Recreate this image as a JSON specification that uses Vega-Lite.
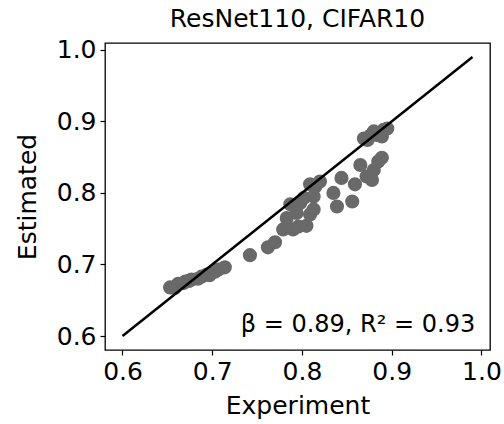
{
  "$schema": "https://vega.github.io/schema/vega-lite/v6.json",
  "autosize": {"type": "none"},
  "padding": {"left": 105, "top": 43, "right": 14, "bottom": 74},
  "width": 385,
  "height": 307,
  "background": "white",
  "title": {"text": "ResNet110, CIFAR10", "font": "DejaVu Sans", "fontSize": 25, "fontWeight": "normal", "color": "black", "offset": 6, "anchor": "middle"},
  "config": {
    "view": {"stroke": "black", "strokeWidth": 1.3},
    "axis": {"grid": false, "domain": false, "tickColor": "black", "tickSize": 5, "tickWidth": 1.2, "labelFont": "DejaVu Sans", "labelFontSize": 25, "labelColor": "black", "titleFont": "DejaVu Sans", "titleFontSize": 25, "titleFontWeight": "normal", "titleColor": "black", "labelPadding": 4}
  },
  "datasets": {
    "pts": [
      {"exp": 0.653, "est": 0.668}, {"exp": 0.658, "est": 0.667}, {"exp": 0.662, "est": 0.673}, {"exp": 0.668, "est": 0.674},
      {"exp": 0.670, "est": 0.676}, {"exp": 0.674, "est": 0.677}, {"exp": 0.677, "est": 0.679}, {"exp": 0.684, "est": 0.680},
      {"exp": 0.688, "est": 0.683}, {"exp": 0.694, "est": 0.686}, {"exp": 0.697, "est": 0.685}, {"exp": 0.703, "est": 0.690},
      {"exp": 0.707, "est": 0.693}, {"exp": 0.714, "est": 0.696}, {"exp": 0.742, "est": 0.713}, {"exp": 0.762, "est": 0.724},
      {"exp": 0.770, "est": 0.731},
      {"exp": 0.779, "est": 0.749}, {"exp": 0.790, "est": 0.749}, {"exp": 0.796, "est": 0.753}, {"exp": 0.805, "est": 0.754},
      {"exp": 0.783, "est": 0.765}, {"exp": 0.809, "est": 0.770}, {"exp": 0.787, "est": 0.784}, {"exp": 0.794, "est": 0.772},
      {"exp": 0.798, "est": 0.786}, {"exp": 0.802, "est": 0.793}, {"exp": 0.813, "est": 0.795}, {"exp": 0.813, "est": 0.777},
      {"exp": 0.809, "est": 0.812}, {"exp": 0.815, "est": 0.809}, {"exp": 0.820, "est": 0.816},
      {"exp": 0.835, "est": 0.800}, {"exp": 0.839, "est": 0.781}, {"exp": 0.844, "est": 0.821}, {"exp": 0.856, "est": 0.788},
      {"exp": 0.859, "est": 0.812}, {"exp": 0.865, "est": 0.839}, {"exp": 0.872, "est": 0.823}, {"exp": 0.878, "est": 0.818},
      {"exp": 0.880, "est": 0.832}, {"exp": 0.885, "est": 0.844}, {"exp": 0.889, "est": 0.849},
      {"exp": 0.869, "est": 0.876}, {"exp": 0.876, "est": 0.880}, {"exp": 0.883, "est": 0.881}, {"exp": 0.889, "est": 0.879},
      {"exp": 0.880, "est": 0.886}, {"exp": 0.891, "est": 0.888}, {"exp": 0.895, "est": 0.890}, {"exp": 0.873, "est": 0.874}
    ],
    "diag": [{"exp": 0.6, "est": 0.6}, {"exp": 0.99, "est": 0.99}],
    "note": [{"exp": 0.993, "est": 0.606, "label": "β = 0.89, R² = 0.93"}]
  },
  "layer": [
    {
      "data": {"name": "pts"},
      "mark": {"type": "circle", "size": 200, "color": "#696969", "opacity": 1},
      "encoding": {
        "x": {"field": "exp", "type": "quantitative", "title": "Experiment", "scale": {"domain": [0.5805, 1.0095], "nice": false, "zero": false}, "axis": {"values": [0.6, 0.7, 0.8, 0.9, 1.0], "format": ".1f", "titlePadding": 9}},
        "y": {"field": "est", "type": "quantitative", "title": "Estimated", "scale": {"domain": [0.5805, 1.0095], "nice": false, "zero": false}, "axis": {"values": [0.6, 0.7, 0.8, 0.9, 1.0], "format": ".1f", "titlePadding": 16}}
      }
    },
    {
      "data": {"name": "diag"},
      "mark": {"type": "line", "color": "black", "strokeWidth": 2.5},
      "encoding": {
        "x": {"field": "exp", "type": "quantitative"},
        "y": {"field": "est", "type": "quantitative"}
      }
    },
    {
      "data": {"name": "note"},
      "mark": {"type": "text", "align": "right", "baseline": "alphabetic", "font": "DejaVu Sans", "fontSize": 24, "color": "black"},
      "encoding": {
        "x": {"field": "exp", "type": "quantitative"},
        "y": {"field": "est", "type": "quantitative"},
        "text": {"field": "label"}
      }
    }
  ]
}
